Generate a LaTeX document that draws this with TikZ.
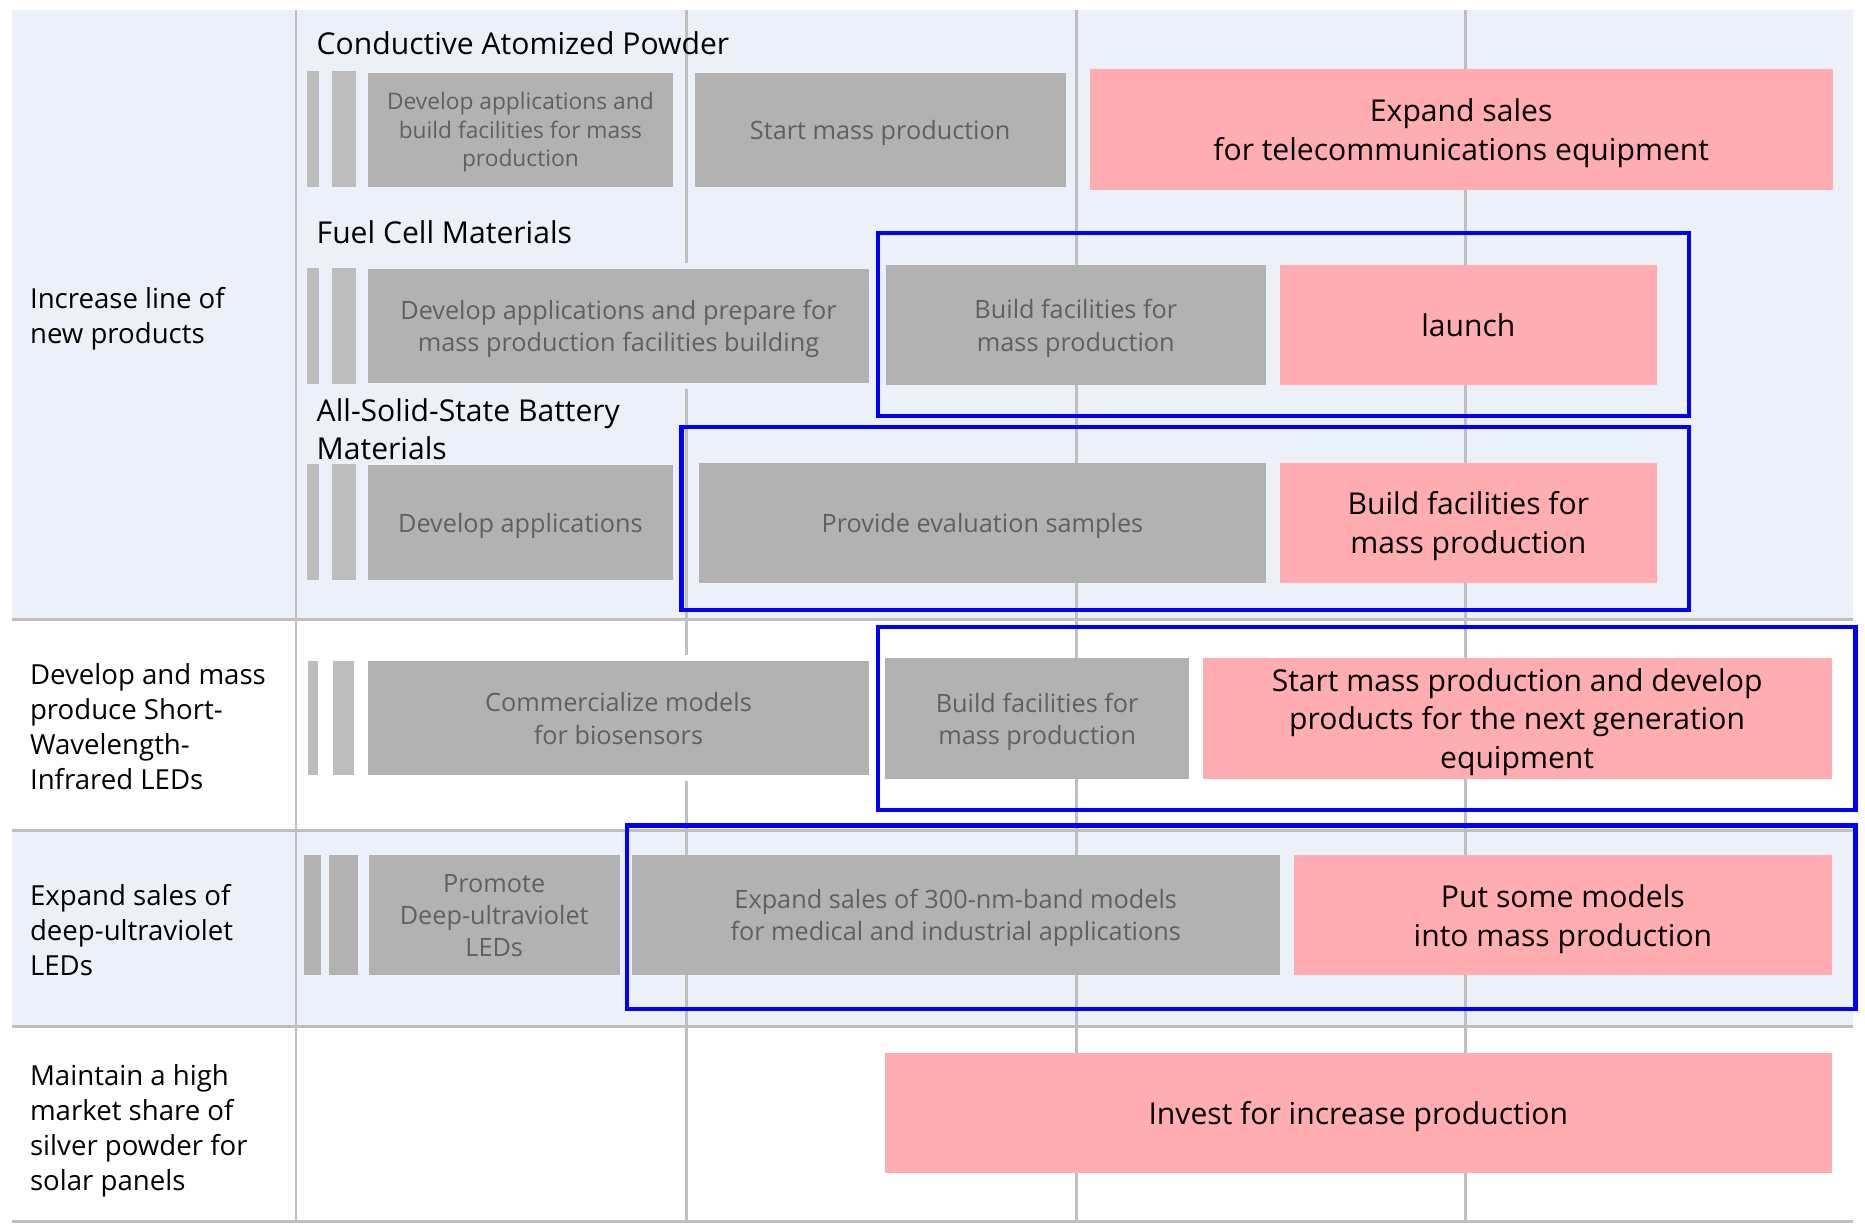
\documentclass[tikz,border=0pt]{standalone}
\usepackage{fontspec}
\setmainfont{Open Sans}

\definecolor{rowbg}{HTML}{ECF0F8}
\definecolor{gridgray}{HTML}{BFBFBF}
\definecolor{boxgray}{HTML}{B2B2B2}
\definecolor{bargray}{HTML}{BDBDBD}
\definecolor{boxtext}{HTML}{606060}
\definecolor{planpink}{HTML}{FFADB0}
\definecolor{frameblue}{HTML}{0000FF}

\tikzset{
  sz/.style 2 args={minimum width={#1*0.025cm}, minimum height={#2*0.025cm}},
  cell/.style={anchor=north west, inner sep=0pt, outer sep=0pt, align=center, text depth=0pt},
  bar/.style={cell, fill=bargray},
  done/.style={cell, fill=boxgray, text=boxtext, font=\fontsize{15.1}{19.2}\selectfont},
  goal/.style={cell, fill=planpink, text=black, font=\fontsize{18}{23.1}\selectfont},
  halo/.style={preaction={draw=#1, line width=0.25cm}},
  bluebox/.style={draw=frameblue, line width=2.5pt},
  gridline/.style={draw=gridgray, line width=1.5pt},
  sepline/.style={draw=gridgray, line width=2pt},
  rowlabel/.style={anchor=west, inner sep=0pt, align=left, text depth=0pt, font=\fontsize{16.5}{21}\selectfont},
  grouptitle/.style={anchor=west, inner sep=0pt, align=left, font=\fontsize{18}{22.8}\selectfont},
}

\begin{document}
\begin{tikzpicture}[x=0.025cm, y=-0.025cm]
  \useasboundingbox (0,0) rectangle (1568,1030);
  \fill[rowbg] (10,8) rectangle (1558,521);
  \fill[rowbg] (10,698) rectangle (1558,863);
  \foreach \x in {577,905,1232}
    \draw[gridline] (\x,8) -- (\x,1027);
  \draw[gridline] (249,8) -- (249,1027);
  \foreach \y in {521,698,863,1027}
    \draw[sepline] (10,\y) -- (1558,\y);

  \node[rowlabel] (newline) at (25,265) {Increase line of\\new products};
  \node[rowlabel] (swir) at (25,611) {Develop and mass\\produce Short-\\Wavelength-\\Infrared LEDs};
  \node[rowlabel] (duv) at (25,782) {Expand sales of\\deep-ultraviolet\\LEDs};
  \node[rowlabel] (silver) at (25,948) {Maintain a high\\market share of\\silver powder for\\solar panels};

  \node[grouptitle] (tcap) at (266,36) {Conductive Atomized Powder};
  \node[bar, sz={10}{97}] (capa) at (258,60) {};
  \node[bar, sz={20}{97}] (capb) at (279,60) {};
  \node[done, sz={257}{96}, font=\fontsize{13.6}{17.1}\selectfont] (cap1) at (309,61) {Develop applications and\\build facilities for mass\\production};
  \node[done, sz={312}{96}] (cap2) at (584,61) {Start mass production};
  \node[goal, sz={625}{102}] (cap3) at (916,58) {Expand sales\\for telecommunications equipment};

  \node[grouptitle] (tfuel) at (266,195) {Fuel Cell Materials};
  \node[bar, sz={10}{98}] (fuela) at (258,225) {};
  \node[bar, sz={20}{98}] (fuelb) at (279,225) {};
  \node[done, halo=rowbg, sz={422}{96}] (fuel1) at (309,226) {Develop applications and prepare for\\mass production facilities building};
  \node[done, sz={319}{101}] (fuel2) at (745,223) {Build facilities for\\mass production};
  \node[goal, sz={317}{101}] (fuel3) at (1076,223) {launch};

  \node[grouptitle] (tass) at (266,361) {All-Solid-State Battery\\Materials};
  \node[bar, sz={10}{98}] (assa) at (258,390) {};
  \node[bar, sz={20}{98}] (assb) at (279,390) {};
  \node[done, sz={257}{97}] (ass1) at (309,391) {Develop applications};
  \node[done, sz={476}{101}] (ass2) at (588,389) {Provide evaluation samples};
  \node[goal, sz={317}{101}] (ass3) at (1076,389) {Build facilities for\\mass production};

  \node[bar, sz={8}{96}] (swira) at (259,556) {};
  \node[bar, sz={18}{96}] (swirb) at (280,556) {};
  \node[done, halo=white, sz={422}{96}] (swir1) at (309,556) {Commercialize models\\for biosensors};
  \node[done, sz={256}{102}] (swir2) at (744,553) {Build facilities for\\mass production};
  \node[goal, sz={529}{102}] (swir3) at (1011,553) {Start mass production and develop\\products for the next generation\\equipment};

  \node[bar, fill=boxgray, sz={14}{101}] (duva) at (256,719) {};
  \node[bar, fill=boxgray, sz={24}{101}] (duvb) at (277,719) {};
  \node[done, sz={211}{101}] (duv1) at (310,719) {Promote\\Deep-ultraviolet\\LEDs};
  \node[done, sz={545}{101}] (duv2) at (531,719) {Expand sales of 300-nm-band models\\for medical and industrial applications};
  \node[goal, sz={452}{101}] (duv3) at (1088,719) {Put some models\\into mass production};

  \node[goal, sz={796}{101}] (invest) at (744,885) {Invest for increase production};

  \draw[bluebox] (738,196) rectangle (1420,350);
  \draw[bluebox] (573,359) rectangle (1420,513);
  \draw[bluebox] (738,527) rectangle (1560,681);
  \draw[bluebox] (527,694) rectangle (1560,848);
\end{tikzpicture}
\end{document}
